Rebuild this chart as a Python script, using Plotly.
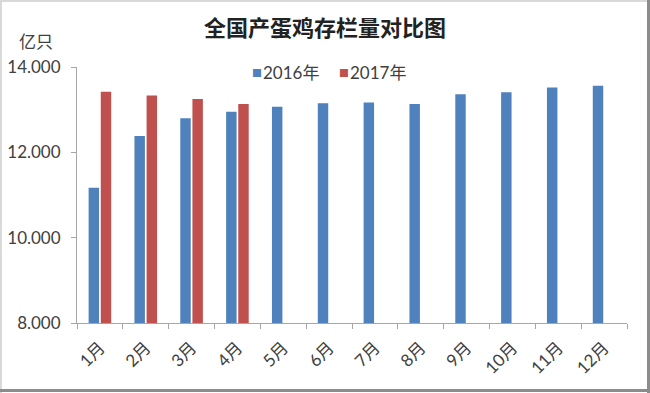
import plotly.graph_objects as go

months = ["1月", "2月", "3月", "4月", "5月", "6月", "7月", "8月", "9月", "10月", "11月", "12月"]
values_2016 = [11.17, 12.38, 12.80, 12.95, 13.07, 13.15, 13.17, 13.13, 13.36, 13.41, 13.52, 13.56]
months_2017 = ["1月", "2月", "3月", "4月"]
values_2017 = [13.42, 13.33, 13.25, 13.13]
series_names = ["2016年", "2017年"]
series_colors = ["#4F81BD", "#C0504D"]

FONT = "Lato, 'Noto Sans CJK SC', sans-serif"
CJK = "'Noto Sans CJK SC', sans-serif"
W, H = 650, 393
L, R, T, B = 77, 23, 67, 70
pw = W - L - R
ph = H - T - B


def px(x):
    return (x - L) / pw


def py(y):
    return (H - B - y) / ph


fig = go.Figure()
fig.add_bar(x=months, y=values_2016, name=series_names[0], marker_color=series_colors[0],
            marker_line_width=0, showlegend=False)
fig.add_bar(x=months_2017, y=values_2017, name=series_names[1], marker_color=series_colors[1],
            marker_line_width=0, showlegend=False)

annotations = [dict(text="亿只", xref="paper", yref="paper", x=px(36), y=py(40),
                    xanchor="center", yanchor="middle", showarrow=False,
                    font=dict(family=CJK, size=17, color="#404040"))]
legend_x = [250, 337]
for name, color, lx in zip(series_names, series_colors, legend_x):
    annotations.append(dict(text="■", xref="paper", yref="paper", x=px(lx), y=py(72),
                            xanchor="left", yanchor="middle", showarrow=False,
                            font=dict(family=CJK, size=10, color=color)))
    annotations.append(dict(text=name, xref="paper", yref="paper", x=px(lx + 11), y=py(72),
                            xanchor="left", yanchor="middle", showarrow=False,
                            font=dict(family=FONT, size=17, color="#404040")))

frame = [
    dict(type="line", xref="paper", yref="paper", x0=px(0), x1=px(W), y0=py(1), y1=py(1),
         line=dict(color="#d9d9d9", width=2)),
    dict(type="line", xref="paper", yref="paper", x0=px(1), x1=px(1), y0=py(0), y1=py(H),
         line=dict(color="#d9d9d9", width=2)),
    dict(type="line", xref="paper", yref="paper", x0=px(648.5), x1=px(648.5), y0=py(0),
         y1=py(H), line=dict(color="#8c8c8c", width=3)),
    dict(type="line", xref="paper", yref="paper", x0=px(0), x1=px(W), y0=py(390.5),
         y1=py(390.5), line=dict(color="#8c8c8c", width=3)),
]

fig.update_layout(
    width=W, height=H,
    margin=dict(l=L, r=R, t=T, b=B, autoexpand=False),
    paper_bgcolor="white", plot_bgcolor="white",
    barmode="group", bargap=0.47, bargroupgap=0.14,
    font=dict(family=FONT, size=15, color="#404040"),
    showlegend=False,
    title=dict(text="全国产蛋鸡存栏量对比图", x=0.5, xanchor="center", y=1 - 28 / H,
               yanchor="middle",
               font=dict(family=CJK, size=22, color="#222222", weight="bold")),
    xaxis=dict(categoryorder="array", categoryarray=months, showline=True, automargin=False,
               linecolor="#a6a6a6", linewidth=1, ticks="outside", tickson="boundaries",
               ticklen=5, tickcolor="#a6a6a6", tickangle=-45, showgrid=False,
               ticklabelstandoff=7,
               tickfont=dict(size=17, color="#404040")),
    yaxis=dict(range=[8, 14], dtick=2, tickformat=".3f", showline=True, automargin=False,
               linecolor="#a6a6a6", linewidth=1, ticks="outside", ticklen=5,
               tickcolor="#a6a6a6", showgrid=False, zeroline=False,
               ticklabelstandoff=7,
               tickfont=dict(size=17, color="#404040")),
    shapes=frame,
    annotations=annotations,
)

fig.write_html("out.html", config={"displayModeBar": False},
               post_script="document.body.style.margin='0';")
